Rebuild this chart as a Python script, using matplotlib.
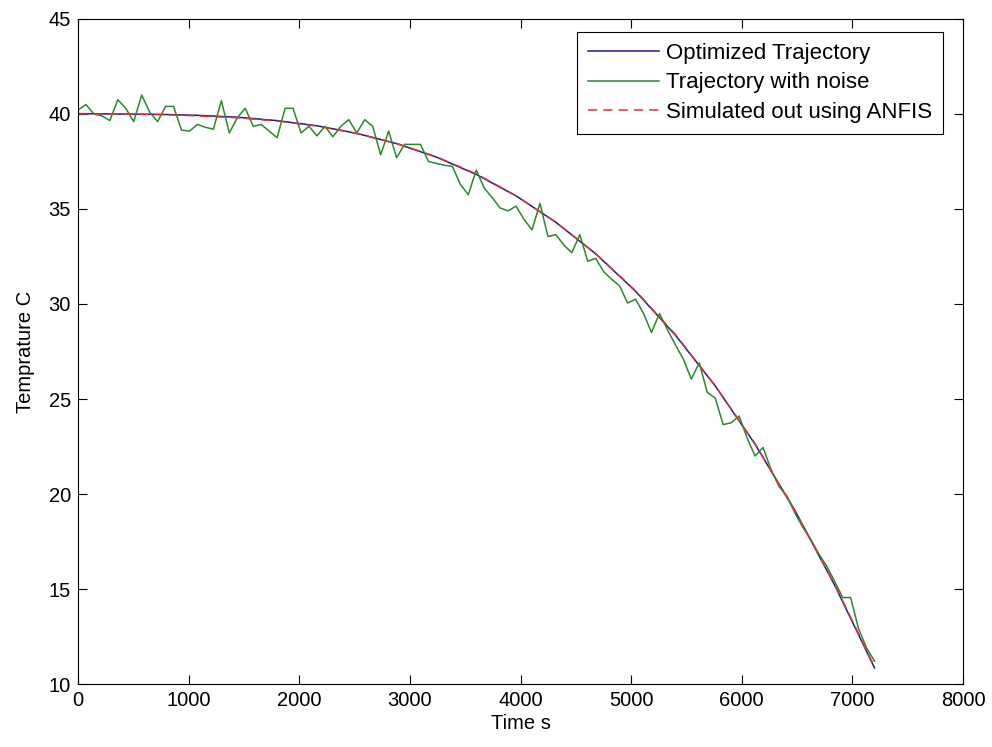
import numpy as np
import matplotlib.pyplot as plt

plt.rcParams['font.family'] = ['Liberation Sans', 'DejaVu Sans']

# optimized trajectory, read every 360 s
t_opt = [0, 360, 720, 1080, 1440, 1800, 2160, 2520, 2880, 3240, 3600,
         3960, 4320, 4680, 5040, 5400, 5760, 6120, 6480, 6840, 7200]
T_opt = [40.02, 40.0, 39.98, 39.93, 39.83, 39.65, 39.38, 38.98, 38.44, 37.73, 36.82,
         35.69, 34.3, 32.64, 30.67, 28.36, 25.69, 22.62, 19.14, 15.2, 10.85]

# ANFIS output on the same grid
T_anfis = [40.0, 40.0, 39.97, 39.9, 39.8, 39.63, 39.36, 38.97, 38.45, 37.75, 36.85,
           35.7, 34.3, 32.65, 30.7, 28.4, 25.7, 22.65, 19.1, 15.25, 10.9]

# trajectory with noise, read every 72 s
t_noise = np.arange(0, 7201, 72)
T_noise = [40.2, 40.5, 40.0, 39.9, 39.65, 40.75, 40.3, 39.6, 41.0, 40.1,
           39.6, 40.4, 40.4, 39.15, 39.1, 39.45, 39.3, 39.2, 40.7, 39.0,
           39.8, 40.3, 39.35, 39.45, 39.1, 38.75, 40.3, 40.3, 39.0, 39.35,
           38.85, 39.35, 38.8, 39.35, 39.7, 39.0, 39.7, 39.35, 37.85, 39.1,
           37.7, 38.4, 38.4, 38.4, 37.5, 37.4, 37.3, 37.25, 36.3, 35.75,
           37.05, 36.1, 35.6, 35.05, 34.9, 35.15, 34.45, 33.9, 35.3, 33.55,
           33.65, 33.1, 32.7, 33.65, 32.25, 32.4, 31.7, 31.3, 30.95, 30.05,
           30.25, 29.5, 28.5, 29.5, 28.65, 27.85, 27.1, 26.05, 26.9, 25.35,
           25.05, 23.65, 23.75, 24.1, 22.95, 22.0, 22.45, 21.3, 20.4, 19.9,
           19.0, 18.25, 17.6, 16.85, 16.2, 15.4, 14.55, 14.55, 12.9, 11.9,
           11.2]

fig = plt.figure(figsize=(9.92, 7.47), dpi=100)
ax = fig.add_axes([0.0786, 0.0843, 0.8922, 0.8903])

ax.plot(t_opt, T_opt, color='#1c1c8c', linewidth=1.1, label='Optimized Trajectory')
ax.plot(t_noise, T_noise, color='#2a8a2a', linewidth=1.1, label='Trajectory with noise')
ax.plot(t_opt, T_anfis, color='#e8303a', linewidth=1.1, linestyle=(0, (6, 4)),
        label='Simulated out using ANFIS')

ax.set_xlim(0, 8000)
ax.set_ylim(10, 45)
ax.set_xticks(range(0, 8001, 1000))
ax.set_yticks(range(10, 46, 5))
ax.tick_params(direction='in', length=6.5, width=0.8, top=True, right=True,
               labelsize=14.5, pad=5)
for s in ax.spines.values():
    s.set_linewidth(0.8)

ax.set_xlabel('Time s', fontsize=14.5, labelpad=3)
ax.set_ylabel('Temprature C', fontsize=14.5, labelpad=10)

leg = ax.legend(loc='upper right', bbox_to_anchor=(0.9774, 0.9805), borderaxespad=0,
                fontsize=16, fancybox=False, framealpha=1, edgecolor='black',
                handlelength=3.2, handletextpad=0.3, labelspacing=0.38, borderpad=0.5)
leg.get_frame().set_linewidth(0.8)

plt.savefig('out.png', dpi=100)
